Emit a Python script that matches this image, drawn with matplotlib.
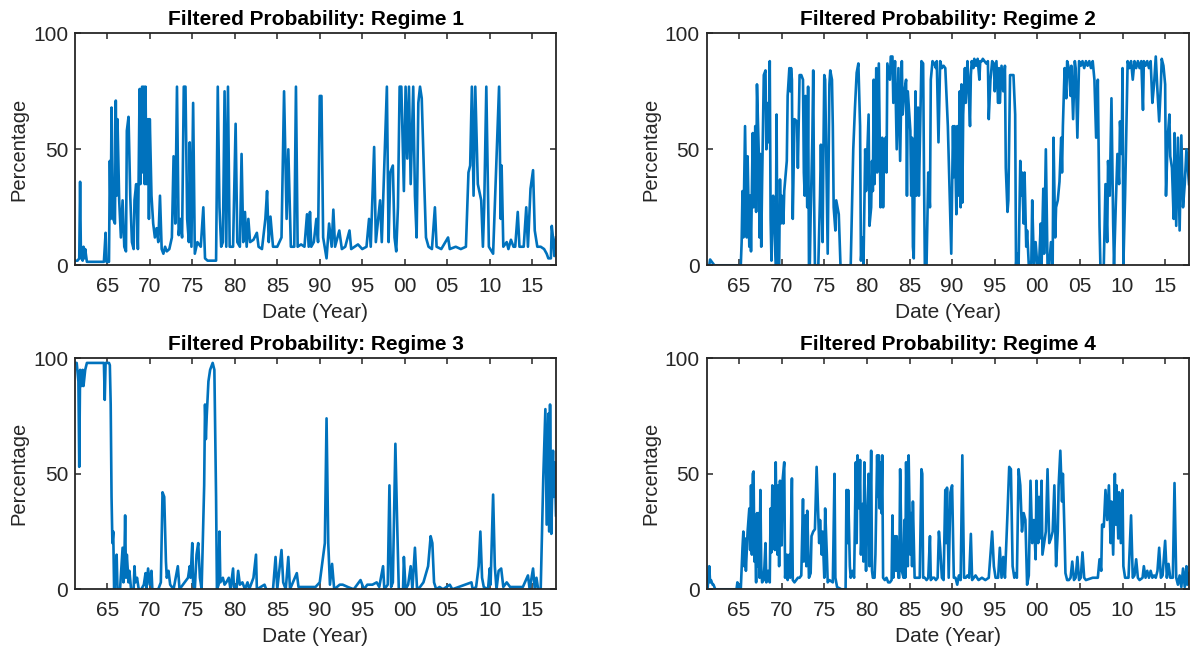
import numpy as np
import matplotlib
matplotlib.use("Agg")
import matplotlib.pyplot as plt

plt.rcParams['font.family'] = ['Liberation Sans', 'DejaVu Sans']

# ---- data: time (years since 1900) and filtered probability (%) ----
r1_t = [61.2, 61.5, 61.7, 61.8, 61.9, 62.0, 62.1, 62.2, 62.3, 62.4, 62.6, 63.5, 64.6, 64.8, 64.9, 65.2,
        65.3, 65.4, 65.5, 65.7, 65.9, 66.0, 66.1, 66.2, 66.4, 66.6, 66.8, 67.0, 67.2, 67.3, 67.5, 67.7,
        67.9, 68.1, 68.2, 68.4, 68.6, 68.8, 68.9, 69.1, 69.2, 69.3, 69.4, 69.5, 69.6, 69.8, 69.9, 70.0,
        70.2, 70.4, 70.6, 70.8, 71.0, 71.2, 71.4, 71.6, 71.8, 72.0, 72.3, 72.6, 72.8, 73.0, 73.2, 73.4,
        73.6, 73.8, 74.0, 74.2, 74.4, 74.6, 74.7, 74.9, 75.1, 75.3, 75.6, 76.0, 76.3, 76.5, 76.8, 77.8,
        78.0, 78.2, 78.4, 78.6, 78.8, 79.0, 79.2, 79.4, 79.8, 80.1, 80.3, 80.6, 80.8, 81.0, 81.2, 81.4,
        81.6, 81.8, 82.2, 82.6, 82.8, 83.2, 83.6, 83.8, 84.0, 84.2, 84.5, 85.0, 85.5, 85.8, 86.1, 86.3,
        86.6, 87.0, 87.2, 87.4, 87.8, 88.2, 88.5, 88.7, 88.85, 89.0, 89.3, 89.6, 89.8, 90.0, 90.2, 90.4,
        90.8, 91.1, 91.4, 91.6, 91.8, 92.3, 92.6, 93.0, 93.5, 93.7, 94.5, 95.0, 95.5, 95.8, 96.0, 96.4,
        96.6, 97.1, 97.3, 97.9, 98.1, 98.3, 98.6, 98.8, 99.0, 99.2, 99.4, 99.6, 99.9, 100.1, 100.3, 100.5,
        100.7, 101.0, 101.2, 101.4, 101.6, 101.8, 102.0, 102.3, 102.5, 102.8, 103.2, 103.55, 103.75, 104.3,
        105.1, 105.3, 106.0, 106.6, 107.2, 107.5, 107.7, 107.9, 108.1, 108.3, 108.6, 109.0, 109.2, 109.35,
        109.6, 109.9, 110.4, 111.1, 111.3, 111.4, 111.6, 112.0, 112.2, 112.5, 112.8, 113.0, 113.3, 113.5,
        114.0, 114.3, 114.5, 114.8, 115.1, 115.3, 115.6, 116.0, 116.4, 116.7, 116.9, 117.2, 117.3, 117.5,
        117.6, 117.8]
r1_v = [2, 2, 3, 36, 3, 7, 2, 8, 3, 7, 1.5, 1.5, 1.5, 14, 1.5, 1.5,
        45, 20, 68, 20, 18, 71, 30, 63, 28, 12, 28, 8, 6, 58, 64, 30,
        10, 7, 28, 35, 7, 76, 35, 77, 40, 77, 35, 77, 35, 63, 20, 63,
        30, 18, 12, 16, 10, 30, 7, 5, 8, 6, 7, 12, 47, 18, 77, 13,
        20, 12, 77, 77, 20, 10, 53, 8, 70, 5, 10, 8, 25, 3, 2, 2,
        77, 25, 8, 10, 75, 8, 77, 8, 8, 61, 10, 8, 48, 10, 23, 8,
        20, 10, 11, 14, 8, 7, 20, 32, 10, 21, 8, 8, 12, 75, 20, 50,
        8, 8, 77, 8, 9, 8, 22, 8, 23, 8, 10, 20, 10, 73, 73, 12,
        3, 18, 8, 24, 8, 15, 7, 8, 15, 7, 9, 7, 8, 20, 8, 51,
        10, 28, 10, 77, 10, 40, 43, 12, 6, 25, 77, 77, 32, 77, 46, 77,
        35, 77, 30, 12, 70, 77, 72, 35, 12, 8, 7, 25, 8, 7,
        12, 7, 8, 7, 8, 40, 43, 77, 30, 77, 35, 28, 8, 25,
        77, 8, 5, 77, 20, 43, 8, 10, 7, 11, 8, 8, 23, 8,
        8, 25, 8, 33, 41, 15, 8, 8, 7, 5, 3, 3, 17, 10,
        4, 12]

r2_t = [61.2, 61.5, 61.6, 61.9, 62.1, 65.2, 65.3, 65.4, 65.5, 65.7, 65.9, 66.0, 66.2, 66.3, 66.4, 66.6,
        66.7, 66.9, 67.0, 67.1, 67.3, 67.4, 67.5, 67.6, 67.7, 67.9, 68.1, 68.2, 68.4, 68.5, 68.6, 68.7,
        68.8, 68.9, 69.0, 69.3, 69.4, 69.5, 69.7, 69.8, 69.9, 70.0, 70.2, 70.3, 70.6, 70.7, 70.9, 71.0,
        71.1, 71.2, 71.3, 71.5, 71.8, 71.9, 72.1, 72.3, 72.5, 72.6, 72.7, 72.8, 73.0, 73.1, 73.2, 73.3,
        73.4, 73.6, 73.7, 73.8, 73.9, 74.3, 74.5, 74.6, 74.8, 74.9, 75.0, 75.1, 75.4, 75.6, 75.7, 75.9,
        76.0, 76.1, 76.3, 76.4, 76.7, 76.9, 78.1, 78.4, 78.6, 78.8, 79.0, 79.2, 79.3, 79.5, 79.6, 79.8,
        79.9, 80.2, 80.3, 80.5, 80.6, 80.7, 80.8, 80.9, 81.1, 81.2, 81.4, 81.6, 81.8, 81.9, 82.0, 82.2,
        82.3, 82.4, 82.7, 82.8, 83.0, 83.1, 83.3, 83.5, 83.7, 83.9, 84.1, 84.2, 84.4, 84.6, 84.7, 84.8,
        85.1, 85.2, 85.3, 85.4, 85.5, 85.7, 85.8, 86.0, 86.1, 86.4, 86.6, 86.7, 86.8, 87.0, 87.2, 87.4,
        87.5, 87.7, 87.9, 88.1, 88.2,
        88.4, 88.6, 88.8, 89.0, 89.2, 89.5, 89.9, 90.1, 90.2, 90.3, 90.5, 90.6, 90.7, 90.9,
        91.0, 91.1, 91.2, 91.3, 91.5, 91.6, 91.8, 91.9, 92.1, 92.2, 92.3, 92.5, 92.6, 92.8, 93.0, 93.2,
        93.3, 93.5, 93.6, 93.8, 94.0, 94.2, 94.3, 94.5, 94.7, 94.9, 95.0, 95.2, 95.4, 95.5, 95.6, 95.8,
        96.0, 96.2, 96.3, 96.5, 96.6, 96.8, 97.0, 97.2, 97.4, 97.5, 97.6, 97.8, 98.0, 98.1, 98.2, 98.4,
        98.5, 98.7, 98.8, 99.0, 99.2, 99.3, 99.4, 99.6, 99.8, 100.0, 100.2, 100.4, 100.5, 100.7, 100.8, 101.0,
        101.2, 101.4, 101.6, 101.8, 101.9, 102.1, 102.2, 102.4, 102.6, 102.8, 102.9, 103.0, 103.2, 103.4, 103.5, 103.7,
        103.9, 104.0, 104.2, 104.4, 104.5, 104.7, 104.9, 105.1, 105.3, 105.5, 105.7, 105.9, 106.1, 106.3, 106.5, 106.7,
        106.9, 107.1, 107.3, 107.4, 107.6, 107.8, 108.0, 108.2, 108.3, 108.5, 108.7, 108.9, 109.0, 109.2, 109.4, 109.6,
        109.7, 109.9, 110.0, 110.1, 110.3, 110.5, 110.6, 110.8, 111.0, 111.2, 111.4, 111.6, 111.8, 112.0, 112.2, 112.4,
        112.5, 112.7, 112.9, 113.1, 113.3, 113.5, 113.7, 113.9, 114.1, 114.3, 114.5, 114.6, 114.8, 115.0, 115.1, 115.3,
        115.5, 115.6, 115.8, 116.0, 116.1, 116.3, 116.5, 116.7, 116.9, 117.1, 117.3, 117.5, 117.8]
r2_v = [0, 0, 2.5, 1, 0, 0, 10, 32, 12, 60, 12, 47, 8, 30, 6, 57,
        25, 60, 23, 78, 50, 12, 48, 8, 35, 82, 84, 50, 70, 53, 88, 20,
        2, 25, 30, 0, 65, 0, 0, 37, 18, 30, 18, 32, 45, 73, 85, 75,
        85, 80, 20, 63, 62, 42, 82, 82, 80, 40, 30, 73, 25, 77, 0, 0,
        22, 55, 84, 30, 0, 0, 30, 52, 10, 50, 82, 80, 5, 78, 84, 80,
        60, 25, 15, 28, 22, 0, 0, 50, 68, 83, 87, 60, 2, 12, 0, 50,
        32, 65, 17, 25, 45, 32, 80, 35, 85, 40, 87, 25, 55, 25, 45, 55,
        40, 87, 80, 90, 90, 70, 88, 50, 85, 45, 88, 65, 75, 80, 30, 75,
        58, 30, 55, 8, 3, 75, 30, 68, 30, 88, 87, 40, 0, 0, 40, 25,
        80, 88, 87, 85, 88,
        53, 88, 85, 86, 85, 60, 5, 60, 38, 60, 22, 60, 30, 75,
        25, 78, 27, 65, 85, 70, 88, 80, 60, 82, 88, 85, 89, 86, 89, 80,
        88, 88, 89, 88, 87, 88, 63, 80, 88, 87, 75, 88, 70, 85, 70, 86,
        75, 86, 42, 23, 28, 82, 82, 82, 65, 0, 5, 0, 45, 30, 40, 18,
        40, 8, 15, 0, 0, 2, 28, 0, 10, 0, 0, 18, 0, 33, 5, 50,
        0, 0, 10, 0, 55, 12, 25, 28, 36, 55, 40, 60, 85, 72, 88, 85,
        73, 86, 63, 88, 85, 55, 88, 86, 88, 85, 88, 86, 88, 85, 88, 80,
        55, 80, 17, 0, 0, 0, 35, 10, 45, 30, 72, 18, 0, 25, 48, 35,
        62, 48, 85, 0, 30, 68, 88, 85, 88, 80, 88, 85, 88, 85, 88, 67,
        88, 86, 88, 85, 88, 70, 78, 90, 75, 62, 78, 89, 86, 78, 30, 55,
        65, 47, 42, 20, 57, 17, 55, 15, 56, 25, 35, 50, 35]

r3_t = [61.2, 61.4, 61.6, 61.7, 61.8, 62.0, 62.1, 62.2, 62.4, 62.6, 64.6, 64.7, 64.8, 65.2, 65.3, 65.4,
        65.5, 65.6, 65.7, 65.8, 66.0, 66.1, 66.2, 66.5, 66.8, 66.9, 67.0, 67.1, 67.2, 67.3, 67.5, 67.6,
        67.8, 68.1, 68.2, 68.3, 68.5, 68.7, 69.0, 69.3, 69.5, 69.6, 69.8, 70.0, 70.2, 70.3, 71.0, 71.3,
        71.5, 71.7, 71.9, 72.0, 72.2, 72.4, 72.8, 73.3, 73.5, 74.5, 74.7, 74.8, 75.0, 75.1, 75.3, 75.5,
        75.7, 75.9, 76.1, 76.4, 76.5, 76.6, 76.7, 76.9, 77.1, 77.4, 77.6, 77.8, 77.9, 78.1, 78.2, 78.3,
        78.6, 78.8, 79.0, 79.3, 79.5, 79.8, 79.9, 80.2, 80.4, 80.6, 80.9, 81.2, 81.5, 81.7, 82.0, 82.2,
        82.5, 82.6, 83.5, 83.7, 84.5, 84.8, 85.0, 85.5, 85.7, 86.0, 86.3, 86.5, 87.3, 87.5, 88.5, 89.5,
        90.0, 90.6, 90.8, 91.0, 91.2, 91.45, 91.7, 92.35, 92.7, 93.3, 94.0, 94.8, 95.2, 95.6, 96.2, 96.7,
        97.0, 97.45, 97.6, 98.0, 98.2, 98.4, 98.6, 98.9, 99.1, 99.3, 99.8, 99.9, 100.1, 100.4, 100.7, 100.9,
        101.2, 101.45, 101.8, 102.2, 102.75, 103.05, 103.25, 103.45, 103.7, 104.1, 104.5, 105.3, 105.6, 107.85, 108.0, 108.4,
        108.7, 108.9, 109.1, 109.3, 109.8, 110.0, 110.1, 110.4, 110.6, 110.8, 111.05, 111.35, 111.6, 112.0, 112.4, 113.9,
        114.5, 114.7, 115.1, 115.3, 115.5, 115.7, 116.0, 116.3, 116.55, 116.7, 116.9, 117.0, 117.1, 117.25, 117.45, 117.5,
        117.65, 117.8]
r3_v = [98, 98, 90, 53, 95, 88, 95, 88, 95, 98, 98, 82, 98, 98, 97, 80,
        40, 20, 25, 0, 5, 15, 0, 0, 18, 3, 10, 32, 5, 15, 3, 8,
        0, 0, 10, 3, 5, 0, 0, 2, 7, 0, 9, 2, 8, 0, 0, 3,
        42, 40, 12, 5, 8, 2, 0, 10, 0, 5, 10, 5, 20, 2, 0, 15,
        20, 5, 0, 45, 80, 65, 75, 90, 95, 98, 95, 40, 0, 2, 25, 3,
        5, 2, 3, 5, 0, 9, 1, 0, 8, 2, 3, 0, 3, 0, 3, 5,
        15, 0, 2, 0, 0, 14, 0, 17, 3, 0, 14, 0, 7, 1, 1, 1,
        3, 20, 74, 20, 2, 11, 0, 2, 2, 1, 0, 4, 0, 2, 2, 3,
        1, 10, 0, 2, 45, 1, 3, 63, 30, 0, 0, 14, 0, 2, 10, 0,
        18, 0, 1, 3, 10, 23, 20, 3, 0, 1, 0, 2, 0, 3, 0, 1,
        10, 25, 5, 1, 0, 9, 2, 41, 10, 0, 8, 9, 1, 3, 1, 1,
        6, 0, 9, 0, 5, 0, 0, 48, 78, 28, 76, 25, 80, 24, 60, 40,
        55, 32]

r4_t = [61.2, 61.3, 61.4, 61.5, 61.6, 61.7, 61.9, 62.0, 62.2, 64.7, 64.8, 65.0, 65.2, 65.4, 65.5, 65.6,
        65.7, 65.8, 66.0, 66.1, 66.2, 66.3, 66.4, 66.5, 66.6, 66.7, 66.8, 66.9, 67.0, 67.1, 67.2, 67.3,
        67.4, 67.5, 67.6, 67.7, 67.9, 68.1, 68.2, 68.4, 68.6, 68.7, 68.8, 68.9, 69.0, 69.2, 69.3, 69.4,
        69.5, 69.6, 69.7, 69.8, 70.0, 70.1, 70.3, 70.4, 70.6, 70.7, 70.9, 71.0, 71.2, 71.3, 71.5, 71.7,
        71.9, 72.1, 72.3, 72.5, 72.6, 72.8, 72.9, 73.0, 73.2, 73.4, 73.5, 73.7, 73.9, 74.1, 74.2, 74.4,
        74.5, 74.7, 74.8, 75.0, 75.1, 75.3, 75.4, 75.6, 76.0, 76.2, 76.3, 76.5, 77.0, 77.5, 77.6, 77.7,
        77.8, 78.0, 78.1, 78.3, 78.5, 78.7, 78.8, 78.9, 79.1, 79.2, 79.3, 79.5, 79.6, 79.7, 79.8, 79.9,
        80.0, 80.2, 80.3, 80.5, 80.6, 80.7, 80.9, 81.0, 81.2, 81.3, 81.4, 81.5, 81.6, 81.7, 81.8, 81.9,
        82.1, 82.3, 82.5, 82.7, 82.9, 83.0, 83.1, 83.3, 83.4, 83.5, 83.7, 83.8, 83.9, 84.1, 84.3, 84.4,
        84.5, 84.6, 84.8, 84.9, 85.0, 85.1, 85.2, 85.3, 85.4, 85.6, 85.8, 86.0, 86.2, 86.3, 86.4, 86.5,
        86.6, 86.8, 87.0, 87.2, 87.4, 87.5, 87.7, 87.9, 88.1, 88.3, 88.45, 88.6, 88.8, 89.0, 89.2, 89.3,
        89.4, 89.6, 89.8, 90.0, 90.2, 90.4, 90.6, 90.8, 91.0, 91.2, 91.4, 91.6, 91.8, 92.0, 92.2, 92.35,
        92.75, 93.1, 93.5, 93.9, 94.3, 94.5, 94.7, 94.9, 95.1, 95.4, 95.6, 95.8, 96.0, 96.2, 96.5, 96.7,
        96.9, 97.1, 97.3, 97.45, 97.6, 97.8, 98.0, 98.2, 98.4, 98.6, 98.8, 99.0, 99.2, 99.4, 99.6, 99.8,
        99.9, 100.1, 100.2, 100.3, 100.5, 100.6, 100.8, 101.0, 101.2, 101.4, 101.6, 101.8, 102.0, 102.2, 102.4, 102.5,
        102.7, 102.9, 103.0, 103.2, 103.3, 103.5, 103.7, 103.9, 104.1, 104.3, 104.5, 104.7, 104.9, 105.1, 105.3, 105.5,
        105.7, 106.5, 107.1, 107.3, 107.5, 107.6, 107.8, 108.0, 108.2, 108.4, 108.6, 108.7, 108.9, 109.1, 109.2, 109.3,
        109.5, 109.6, 109.8, 110.0, 110.1, 110.3, 110.5, 110.7, 111.0, 111.2, 111.4, 111.6, 111.8, 112.0, 112.35, 112.5,
        112.7, 112.9, 113.1, 113.3, 113.5, 113.7, 113.9, 114.1, 114.3, 114.5, 114.7, 115.0, 115.2, 115.4, 115.6, 115.9,
        116.1, 116.3, 116.5, 116.7, 116.9, 117.1, 117.3, 117.5, 117.6, 117.8]
r4_v = [0, 0, 5, 10, 3, 4, 2, 2, 0, 0, 3, 1, 0, 18, 25, 10,
        22, 8, 25, 30, 35, 17, 45, 15, 50, 51, 12, 20, 3, 33, 10, 33,
        5, 43, 10, 3, 4, 20, 3, 8, 3, 35, 16, 45, 20, 17, 55, 30,
        15, 45, 10, 47, 19, 47, 55, 5, 15, 4, 15, 5, 48, 4, 3, 4,
        5, 5, 6, 39, 12, 32, 10, 34, 5, 7, 23, 25, 26, 53, 42, 20,
        30, 15, 25, 5, 35, 15, 3, 4, 3, 50, 5, 1, 0, 0, 43, 20,
        43, 10, 5, 8, 5, 55, 20, 58, 35, 56, 15, 37, 12, 55, 30, 8,
        25, 50, 10, 60, 8, 5, 5, 15, 58, 40, 58, 35, 55, 33, 58, 5,
        4, 5, 3, 3, 4, 32, 5, 23, 8, 23, 5, 5, 52, 8, 5, 30,
        5, 55, 10, 58, 35, 15, 33, 10, 38, 5, 5, 5, 5, 30, 52, 50,
        5, 5, 4, 5, 23, 4, 5, 5, 4, 5, 25, 18, 5, 4, 43, 20,
        44, 5, 42, 45, 5, 5, 2, 6, 4, 58, 5, 5, 6, 5, 24, 4,
        6, 4, 5, 4, 5, 15, 25, 10, 5, 5, 18, 5, 14, 5, 33, 53,
        52, 10, 5, 7, 5, 52, 45, 25, 33, 30, 2, 6, 47, 20, 30, 13,
        47, 20, 40, 22, 47, 15, 20, 25, 52, 20, 22, 25, 45, 10, 25, 45,
        60, 38, 50, 23, 7, 4, 4, 5, 12, 4, 5, 14, 4, 5, 16, 5,
        4, 5, 5, 13, 8, 28, 27, 43, 30, 45, 20, 38, 15, 50, 28, 45,
        22, 42, 20, 43, 10, 5, 5, 5, 32, 5, 6, 13, 5, 4, 5, 10,
        5, 8, 5, 8, 5, 6, 5, 8, 18, 5, 6, 21, 5, 11, 5, 5,
        46, 5, 2, 6, 1, 9, 1, 10, 2, 7]

titles = ["Filtered Probability: Regime 1", "Filtered Probability: Regime 2",
          "Filtered Probability: Regime 3", "Filtered Probability: Regime 4"]
tick_years = [1965, 1970, 1975, 1980, 1985, 1990, 1995, 2000, 2005, 2010, 2015]
tick_labels = ["65", "70", "75", "80", "85", "90", "95", "00", "05", "10", "15"]
y_ticks = [0, 50, 100]
series = [(r1_t, r1_v), (r2_t, r2_v), (r3_t, r3_v), (r4_t, r4_v)]

W, H = 1192, 649
fig = plt.figure(figsize=(W / 100, H / 100), dpi=100)
boxes = [(75, 33.3, 556, 265.3), (706.7, 33.3, 1189, 265.3),
         (75, 358.3, 556, 589.3), (706.7, 358.3, 1189, 589.3)]
line_color = "#0072BD"
axis_color = "#262626"
fs = 15

for (t, v), title, (x0, y0, x1, y1) in zip(series, titles, boxes):
    ax = fig.add_axes([x0 / W, 1 - y1 / H, (x1 - x0) / W, (y1 - y0) / H])
    ax.plot(1900 + np.array(t), v, color=line_color, lw=1.9, solid_joinstyle='round')
    ax.set_xlim(1961.2, 2017.8)
    ax.set_ylim(0, 100)
    ax.set_xticks(tick_years)
    ax.set_xticklabels(tick_labels)
    ax.set_yticks(y_ticks)
    ax.tick_params(direction='in', top=True, right=True, length=4, width=1.1,
                   colors=axis_color, labelsize=fs)
    ax.tick_params(axis='x', pad=8.5)
    ax.tick_params(axis='y', pad=5)
    for s in ax.spines.values():
        s.set_color(axis_color)
        s.set_linewidth(1.3)
    ax.set_title(title, fontsize=fs, fontweight='bold', pad=6)
    ax.set_xlabel("Date (Year)", fontsize=fs, color=axis_color, labelpad=5)
    ax.set_ylabel("Percentage", fontsize=14.5, color=axis_color, labelpad=3)

fig.savefig("out.png", dpi=100)
